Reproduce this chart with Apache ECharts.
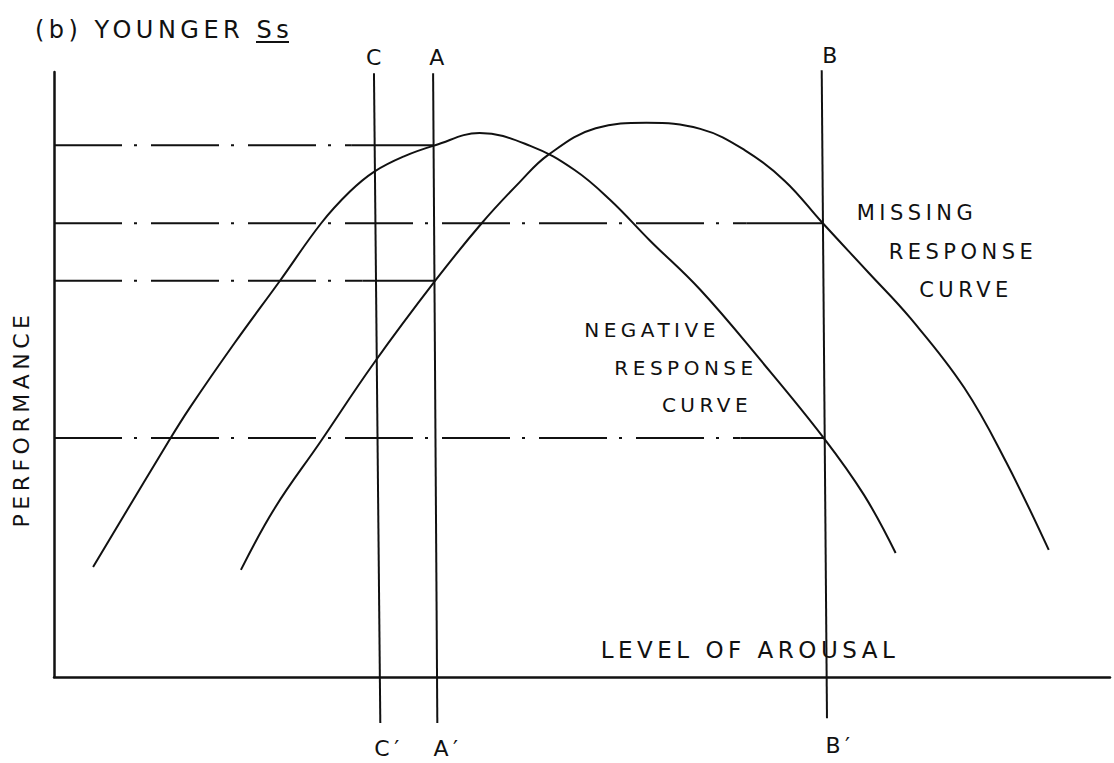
<!DOCTYPE html>
<html>
<head>
<meta charset="utf-8">
<style>
  html, body { margin: 0; background: #fff; }
  #chart { width: 1114px; height: 763px; }
  /* the hand lettering is widely spaced */
  #chart text { letter-spacing: 4.5px; }
</style>
<script src="https://cdn.jsdelivr.net/npm/echarts@6/dist/echarts.min.js"></script>
</head>
<body>
<div id="chart"></div>
<script>
// negative response curve (arousal, performance), arbitrary 0-100 units
const negArousal = [3.7, 10.8, 12.9, 17.1, 21.4, 25.3, 28.0, 30.3, 33.2, 36.1, 40.3, 45.1, 49.3, 52.7, 56.4, 61.2, 66.9, 72.9, 76.7, 79.7]
const negPerformance = [18.2, 38.8, 44.6, 55.2, 65.5, 75.0, 80.2, 83.5, 86.1, 87.9, 89.9, 87.8, 83.8, 78.8, 72.2, 64.0, 52.4, 39.5, 30.1, 20.5]

// missing response curve
const missArousal = [17.7, 20.9, 25.2, 30.3, 36.1, 40.5, 44.1, 46.8, 51.3, 56.1, 61.2, 65.4, 69.2, 72.7, 77.1, 81.1, 86.2, 90.2, 94.2]
const missPerformance = [17.7, 27.9, 38.8, 51.9, 65.5, 75.0, 81.8, 86.3, 90.7, 91.6, 90.6, 87.1, 82.0, 75.2, 66.9, 59.3, 47.8, 35.4, 21.0]

// vertical reference lines C-C', A-A', B-B'
const refLabels = ['C', 'A', 'B']
const refTopX = [30.3, 35.9, 72.7]
const refBottomX = [30.9, 36.3, 73.2]
const refTopY = [99.8, 99.8, 100.3]
const refBottomY = [-7.6, -7.6, -6.8]

// dash-dot performance levels: dash-dot from the y axis, solid for the last stretch
const levelY = [87.9, 75.0, 65.5, 39.5]
const levelSolidFromX = [28.2, 65.6, 29.2, 65.0]
const levelEndX = [35.9, 72.8, 36.1, 72.9]

const INK = '#111'
const FONT = '"DejaVu Sans", sans-serif'

const pair = (xs, ys) => xs.map((x, i) => [x, ys[i]])

const curveBase = {
  type: 'line',
  smooth: 0.4,
  symbol: 'none',
  clip: false,
  silent: true,
  lineStyle: { color: INK, width: 2 },
}

const segment = (data, lineStyle) => ({
  type: 'line',
  symbol: 'none',
  clip: false,
  silent: true,
  data,
  lineStyle: { color: INK, width: 2, ...lineStyle },
})

const refSeries = refLabels.map((name, i) =>
  segment([[refBottomX[i], refBottomY[i]], [refTopX[i], refTopY[i]]], {}))

const levelSeries = levelY.flatMap((y, i) => [
  segment([[0, y], [levelSolidFromX[i], y]], { type: [68, 12, 3, 14] }),
  segment([[levelSolidFromX[i], y], [levelEndX[i], y]], {}),
])

const txt = (text, x, y, size, extra = {}, align = 'center') => ({
  type: 'text',
  x,
  y,
  ...extra,
  style: {
    text,
    fontFamily: FONT,
    fontSize: size,
    fill: INK,
    align,
    verticalAlign: 'middle',
  },
})

const hiddenAxis = {
  type: 'value',
  min: 0,
  max: 100,
  axisLine: { show: true, lineStyle: { color: INK, width: 2.5 } },
  axisTick: { show: false },
  axisLabel: { show: false },
  splitLine: { show: false },
}

const option = {
  backgroundColor: '#fff',
  animation: false,
  grid: { left: 54, right: 4, top: 72, bottom: 86 },
  xAxis: { ...hiddenAxis },
  yAxis: { ...hiddenAxis },
  series: [
    ...levelSeries,
    ...refSeries,
    { name: 'NEGATIVE RESPONSE CURVE', data: pair(negArousal, negPerformance), ...curveBase },
    { name: 'MISSING RESPONSE CURVE', data: pair(missArousal, missPerformance), ...curveBase },
  ],
  graphic: [
    txt('(b) YOUNGER Ss', 35, 30, 24, {}, 'left'),
    { type: 'line', shape: { x1: 256, y1: 42, x2: 289, y2: 42 }, style: { stroke: INK, lineWidth: 2 } },
    txt('C', 376, 57, 22),
    txt('A', 439, 57, 22),
    txt('B', 832, 55, 22),
    txt('C′', 389, 748, 22),
    txt('A′', 448, 748, 22),
    txt('B′', 840, 745, 22),
    txt('PERFORMANCE', 21, 419, 22, { rotation: Math.PI / 2 }),
    txt('LEVEL OF AROUSAL', 750, 650, 23),
    txt('MISSING', 917, 213, 21),
    txt('RESPONSE', 963, 252, 21),
    txt('CURVE', 966, 290, 21),
    txt('NEGATIVE', 652, 330, 20),
    txt('RESPONSE', 686, 368, 20),
    txt('CURVE', 707, 405, 20),
  ],
}

const chart = echarts.init(document.getElementById('chart'), null, { renderer: 'svg' })
chart.setOption(option)
</script>
</body>
</html>
